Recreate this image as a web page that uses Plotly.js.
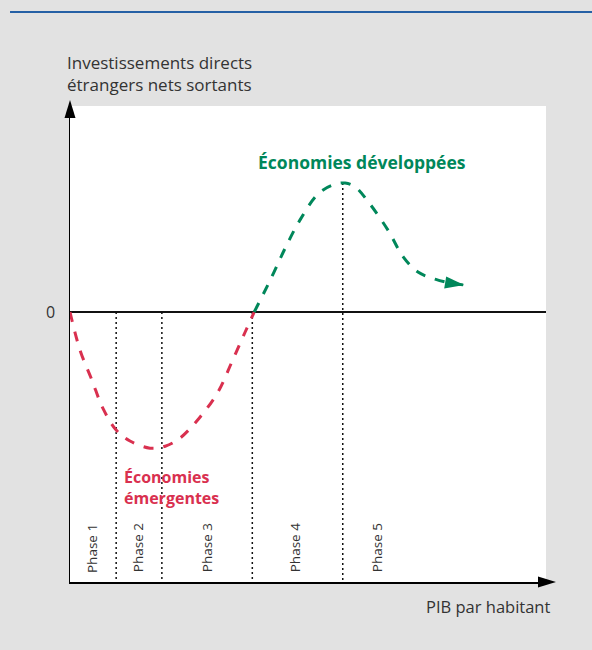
<!DOCTYPE html>
<html>
<head>
<meta charset="utf-8">
<script src="https://cdn.plot.ly/plotly-3.0.1.min.js"></script>
<style>html,body{margin:0;padding:0;background:#e2e2e2;}#chart{width:592px;height:650px;}</style>
</head>
<body>
<div id="chart"></div>
<script>
// ---- data (abstract units: x = PIB par habitant index, y = IDE nets sortants index) ----
const emergingX = [0, 2.1, 4.6, 6.9, 9.7, 12.6, 16.8, 20.0, 23.1, 27.3, 31.1, 34.0, 36.8, 38.7];
const emergingY = [0, -0.80, -1.43, -2.02, -2.48, -2.71, -2.86, -2.82, -2.65, -2.21, -1.68, -1.05, -0.42, 0];
const developedX = [38.7, 42.4, 45.2, 48.3, 52.1, 55.3, 57.8, 59.9, 63.0, 66.8, 70.0, 73.1, 76.7, 79.8, 82.6];
const developedY = [0, 0.74, 1.34, 1.93, 2.48, 2.67, 2.71, 2.63, 2.27, 1.72, 1.16, 0.84, 0.69, 0.61, 0.57];
const phaseBounds = [9.7, 19.3, 38.3, 57.3];
const phaseTops = [0, 0, 0, 2.71];
const phaseLabels = ['Phase 1', 'Phase 2', 'Phase 3', 'Phase 4', 'Phase 5'];
const phaseLabelX = [4.6, 14.3, 28.8, 47.3, 64.5];
const phaseLabelY = -4.96;
const yTitle = 'Investissements directs<br>étrangers nets sortants';
const xTitle = 'PIB par habitant';
const emergingLabel = 'Économies<br>émergentes';
const developedLabel = 'Économies développées';

const xRange = [0, 100];
const yRange = [-5.672, 4.328];

const RED = '#d9304f';
const GREEN = '#00875a';
const FONT = 'Open Sans, Noto Sans, sans-serif';
const TXT = '#333333';

// divider trace built from arrays
const divX = [], divY = [];
phaseBounds.forEach((b, i) => { divX.push(b, b, null); divY.push(phaseTops[i], yRange[0], null); });

const traces = [
  {x: divX, y: divY, mode: 'lines', line: {color: '#111', width: 1.5, dash: '2px,3px'}, hoverinfo: 'skip'},
  {x: emergingX, y: emergingY, mode: 'lines', line: {color: RED, width: 3, dash: '10px,10px', shape: 'spline', smoothing: 1}},
  {x: developedX, y: developedY, mode: 'lines', line: {color: GREEN, width: 3, dash: '10px,10px', shape: 'spline', smoothing: 1}}
];

const n = developedX.length;
const annotations = [
  {xref: 'paper', yref: 'paper', x: -0.0105, y: 1.069, xanchor: 'left', yanchor: 'middle', align: 'left',
   text: yTitle, showarrow: false, font: {family: FONT, size: 17, color: TXT}},
  {xref: 'paper', yref: 'y', x: -0.027, y: 0, xanchor: 'right', yanchor: 'middle',
   text: '0', showarrow: false, font: {family: FONT, size: 16, color: TXT}},
  {xref: 'paper', yref: 'paper', x: 1.0126, y: -0.0525, xanchor: 'right', yanchor: 'middle',
   text: xTitle, showarrow: false, font: {family: FONT, size: 16.5, color: TXT}},
  {xref: 'x', yref: 'y', x: 39.1, y: 3.15, xanchor: 'left', yanchor: 'middle',
   text: '<b>' + developedLabel + '</b>', showarrow: false, font: {family: FONT, size: 17.5, color: GREEN}},
  {xref: 'x', yref: 'y', x: 10.9, y: -3.68, xanchor: 'left', yanchor: 'middle', align: 'left',
   text: '<b>' + emergingLabel + '</b>', showarrow: false, font: {family: FONT, size: 16, color: RED}}
];
phaseLabels.forEach((t, i) => annotations.push({
  xref: 'x', yref: 'y', x: phaseLabelX[i], y: phaseLabelY, xanchor: 'center', yanchor: 'middle',
  text: t, textangle: -90, showarrow: false, font: {family: FONT, size: 13.5, color: TXT}
}));

const shapes = [
  // top blue rule
  {type: 'line', xref: 'paper', yref: 'paper', x0: -0.126, x1: 1.1, y0: 1.1975, y1: 1.1975,
   line: {color: '#2560a5', width: 2}},
  // y axis arrowhead
  {type: 'path', xref: 'paper', yref: 'paper', xsizemode: 'pixel', ysizemode: 'pixel', xanchor: 0, yanchor: 1,
   path: 'M-5.5,-12 L0,6 L5.5,-12 Z', fillcolor: '#000', line: {width: 0}},
  // x axis arrowhead
  {type: 'path', xref: 'paper', yref: 'paper', xsizemode: 'pixel', ysizemode: 'pixel', xanchor: 1, yanchor: 0,
   path: 'M-8,5.5 L10,0 L-8,-5.5 Z', fillcolor: '#000', line: {width: 0}},
  // green curve arrowhead at its last point
  {type: 'path', xref: 'x', yref: 'y', xsizemode: 'pixel', ysizemode: 'pixel',
   xanchor: developedX[n - 1], yanchor: developedY[n - 1],
   path: 'M1,0 L-17,8.5 L-19,-3.5 Z', fillcolor: GREEN, line: {width: 0}}
];

const layout = {
  width: 592, height: 650,
  margin: {l: 70, r: 46, t: 106, b: 68},
  paper_bgcolor: '#e2e2e2', plot_bgcolor: '#ffffff',
  showlegend: false,
  xaxis: {range: xRange, showgrid: false, zeroline: false, showticklabels: false, ticks: '',
          showline: true, linecolor: '#000', linewidth: 1.5, fixedrange: true},
  yaxis: {range: yRange, showgrid: false, zeroline: true, zerolinecolor: '#111', zerolinewidth: 1.5,
          showticklabels: false, ticks: '', showline: true, linecolor: '#000', linewidth: 1.5, fixedrange: true},
  annotations: annotations,
  shapes: shapes
};

Plotly.newPlot('chart', traces, layout, {staticPlot: true});
</script>
</body>
</html>
